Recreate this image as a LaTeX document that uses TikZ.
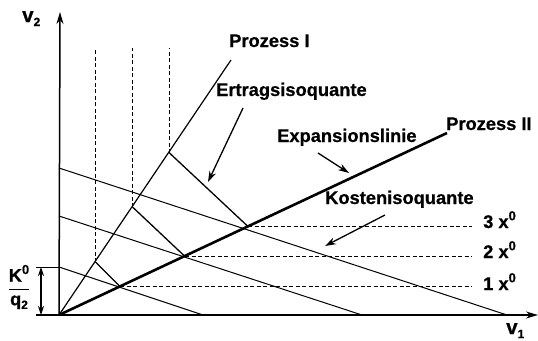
\documentclass[tikz,border=0pt]{standalone}
\usepackage{amsmath}
\usepackage{fontspec}
\setmainfont{Liberation Sans}[BoldFeatures={FakeBold=0.7}]
\usetikzlibrary{arrows.meta}
\newcommand{\hisup}[1]{\raisebox{0.42em}{\fontsize{13}{13}\selectfont #1}}
\newcommand{\losub}[1]{\raisebox{-0.2em}{\fontsize{12}{12}\selectfont #1}}
\tikzset{
  lbl/.style={font=\fontsize{18.3}{20}\selectfont\bfseries, inner sep=0pt, anchor=base west},
  axlbl/.style={font=\fontsize{20.5}{22}\selectfont\bfseries, inner sep=0pt, anchor=base west},
  axis/.style={line width=1.5pt, -{Stealth[length=12pt,width=7pt]}},
  proc/.style={line width=1.2pt},
  procthick/.style={line width=2.6pt},
  cost/.style={line width=1pt},
  iso/.style={line width=1.3pt},
  dsh/.style={line width=1.1pt, dash pattern=on 4pt off 2.5pt},
  pointer/.style={line width=1.3pt, -{Stealth[length=11pt,width=7pt]}},
}
\begin{document}
\begin{tikzpicture}[x=1pt,y=-1pt]
\useasboundingbox (0,0) rectangle (538,340);
% coordinates
\coordinate (O) at (59,315);
\coordinate (Ytop) at (60,12);
\coordinate (Xl) at (36,315);
\coordinate (Xr) at (538,315);
\coordinate (P1) at (231,60);
\coordinate (P2) at (447,133);
\coordinate (A1) at (95.5,262);
\coordinate (A2) at (132.5,207);
\coordinate (A3) at (169.5,153);
\coordinate (B1) at (120,286.5);
\coordinate (B2) at (185,256.5);
\coordinate (B3) at (248,226.5);
\coordinate (A1t) at (95.5,48);
\coordinate (A2t) at (132.5,48);
\coordinate (A3t) at (169.5,48);
\coordinate (B1r) at (472,286.5);
\coordinate (B2r) at (472,256.5);
\coordinate (B3r) at (472,226.5);
\coordinate (C1a) at (59,267);
\coordinate (C1b) at (203,315);
\coordinate (C2a) at (59,216);
\coordinate (C2b) at (362,315);
\coordinate (C3a) at (59,168);
\coordinate (C3b) at (507,315);
\coordinate (Tk) at (36,267);
\coordinate (Da) at (41,267);
\coordinate (Db) at (41,315);
% axes
\draw[axis] (O) -- (Ytop);
\draw[axis] (Xl) -- (Xr);
% dashed
\draw[dsh] (A1) -- (A1t);
\draw[dsh] (A2) -- (A2t);
\draw[dsh] (A3) -- (A3t);
\draw[dsh] (B1) -- (B1r);
\draw[dsh] (B2) -- (B2r);
\draw[dsh] (B3) -- (B3r);
% cost lines
\draw[cost] (C1a) -- (C1b);
\draw[cost] (C2a) -- (C2b);
\draw[cost] (C3a) -- (C3b);
% processes
\draw[proc] (O) -- (P1);
\draw[procthick] (O) -- (P2);
% yield isoquants
\draw[iso] (A1) -- (B1);
\draw[iso] (A2) -- (B2);
\draw[iso] (A3) -- (B3);
% dimension
\draw[line width=1pt] (Tk) -- (C1a);
\draw[line width=1.2pt, {Stealth[length=9pt,width=6pt]}-{Stealth[length=9pt,width=6pt]}] (Da) -- (Db);
% labels
\node[axlbl] (v2) at (22,22) {v\losub{2}};
\node[axlbl] (v1) at (506,334) {v\losub{1}};
\node[lbl] (pI) at (229,47) {Prozess I};
\node[lbl] (ert) at (216,96) {Ertragsisoquante};
\node[lbl] (exp) at (277,142) {Expansionslinie};
\node[lbl] (pII) at (446,130) {Prozess II};
\node[lbl] (kost) at (325,204) {Kostenisoquante};
\node[lbl] (x3) at (483,228) {3 x\hisup{0}};
\node[lbl] (x2) at (483,258) {2 x\hisup{0}};
\node[lbl] (x1) at (483,290) {1 x\hisup{0}};
\node[font=\fontsize{18.3}{20}\selectfont\bfseries, inner sep=0pt] (kq) at (19,287) {$\dfrac{\text{K\hisup{0}}}{\text{q\losub{2}}}$};
% pointers
\coordinate (e1) at (243,108);
\coordinate (e2) at (208,182);
\coordinate (x1s) at (318,153);
\coordinate (x1e) at (349,173);
\coordinate (k1s) at (385,215);
\coordinate (k1e) at (325,246);
\draw[pointer] (e1) -- (e2);
\draw[pointer] (x1s) -- (x1e);
\draw[pointer] (k1s) -- (k1e);
\end{tikzpicture}
\end{document}
